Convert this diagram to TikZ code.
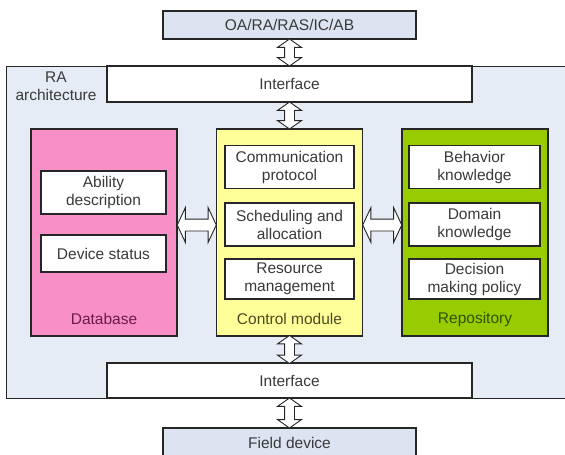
\documentclass[tikz,border=0pt]{standalone}
\usepackage{fontspec}
\setmainfont{Liberation Sans}
\usetikzlibrary{shapes.arrows,calc}

\definecolor{linec}{HTML}{262626}
\definecolor{textc}{HTML}{3A3A3A}
\definecolor{outerfill}{HTML}{E6ECF6}
\definecolor{endfill}{HTML}{DCE4F1}
\definecolor{dbfill}{HTML}{F98FC7}
\definecolor{cmfill}{HTML}{FFFF99}
\definecolor{repofill}{HTML}{99CC00}
\definecolor{dbtext}{HTML}{6A1B4B}
\definecolor{cmtext}{HTML}{4A4A20}
\definecolor{repotext}{HTML}{2F5200}

\begin{document}
\begin{tikzpicture}[x=1pt,y=-1pt,
  txt/.style={font=\fontsize{15.5}{18}\selectfont, text=textc, align=center},
  box/.style={txt, draw=linec, line width=1.25pt, inner sep=0pt, rectangle},
  endbox/.style={box, fill=endfill, minimum width=253pt, minimum height=28pt},
  ifbox/.style={box, fill=white, minimum width=365pt, minimum height=36pt},
  group/.style={box, minimum width=146pt, minimum height=207pt},
  item/.style={box, fill=white, minimum height=43pt},
  varrow/.style={double arrow, draw=linec, fill=white, line width=0.9pt,
    shape border rotate=90, inner sep=4.5pt, double arrow head extend=7pt,
    double arrow tip angle=110},
  harrow/.style={double arrow, draw=linec, fill=white, line width=0.9pt,
    inner sep=5.5pt, double arrow head extend=11.5pt,
    double arrow tip angle=130, minimum height=39pt}]
\useasboundingbox (0,0) rectangle (565,455);

% enclosing RA architecture frame
\node[box, fill=outerfill, anchor=north west, minimum width=564pt,
      minimum height=332pt] (ra) at (6,66) {};
\node[txt] (ralabel) at (56,86) {RA\\architecture};

% external layers
\node[endbox] (top) at (289.5,25) {OA/RA/RAS/IC/AB};
\node[ifbox] (ifup) at (289.5,84) {Interface};
\node[box, fill=white, minimum width=365pt, minimum height=35pt] (ifdown) at (289.5,380.5) {Interface};
\node[endbox, minimum height=30pt] (field) at (289.5,443) {Field device};

% three modules
\node[group, fill=dbfill] (db) at (104,232.5) {};
\node[group, fill=cmfill] (cm) at (289.5,232.5) {};
\node[group, fill=repofill] (repo) at (475,232.5) {};

\node[txt, text=dbtext] (dblabel) at (104,319) {Database};
\node[txt, text=cmtext] (cmlabel) at (289.5,319) {Control module};
\node[txt, text=repotext] (repolabel) at (475,319) {Repository};

% database items
\node[item, minimum width=125pt] (ability) at (103.5,192.5) {Ability\\description};
\node[item, minimum width=125pt, minimum height=37pt] (status) at (103.5,253.5) {Device status};

% control module items
\node[item, minimum width=129pt] (comm) at (289.5,167) {Communication\\protocol};
\node[item, minimum width=129pt] (sched) at (289.5,224.5) {Scheduling and\\allocation};
\node[item, minimum width=129pt, minimum height=40pt] (resman) at (289.5,279) {Resource\\management};

% repository items
\node[item, minimum width=131pt] (behav) at (474.5,167) {Behavior\\knowledge};
\node[item, minimum width=131pt] (domain) at (474.5,224.5) {Domain\\knowledge};
\node[item, minimum width=131pt, minimum height=40pt] (policy) at (474.5,279) {Decision\\making policy};

% vertical links
\node[varrow, minimum height=27pt] (a1) at ($(top.south)!0.5!(ifup.north)$) {};
\node[varrow, minimum height=27pt] (a2) at ($(ifup.south)!0.5!(cm.north)$) {};
\node[varrow, minimum height=28pt] (a3) at ($(cm.south)!0.5!(ifdown.north)$) {};
\node[varrow, minimum height=30pt] (a4) at ($(ifdown.south)!0.5!(field.north)$) {};

% horizontal links
\node[harrow] (a5) at ($(db.east)!0.5!(cm.west)+(0,-7.5)$) {};
\node[harrow] (a6) at ($(cm.east)!0.5!(repo.west)+(0,-7.5)$) {};
\end{tikzpicture}
\end{document}
